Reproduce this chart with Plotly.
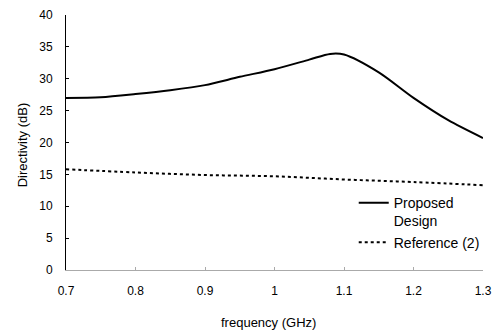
import plotly.graph_objects as go

freq_proposed = [0.70, 0.75, 0.80, 0.85, 0.90, 0.95, 1.00, 1.05, 1.08, 1.10, 1.15, 1.20, 1.25, 1.30]
dir_proposed = [27.0, 27.1, 27.6, 28.2, 29.0, 30.3, 31.5, 33.0, 33.9, 33.8, 31.0, 27.0, 23.5, 20.7]

freq_reference = [0.70, 0.80, 0.90, 1.00, 1.10, 1.20, 1.30]
dir_reference = [15.8, 15.3, 14.9, 14.7, 14.2, 13.8, 13.3]

x_ticks = [0.7, 0.8, 0.9, 1.0, 1.1, 1.2, 1.3]
x_ticktext = ["0.7", "0.8", "0.9", "1", "1.1", "1.2", "1.3"]
y_ticks = [0, 5, 10, 15, 20, 25, 30, 35, 40]

FONT = "Liberation Sans Narrow, Liberation Sans, Arial, sans-serif"

fig = go.Figure()
fig.add_trace(go.Scatter(
    x=freq_proposed, y=dir_proposed, mode="lines", name="Proposed<br>Design",
    line=dict(color="black", width=2, shape="spline", smoothing=0.8)))
fig.add_trace(go.Scatter(
    x=freq_reference, y=dir_reference, mode="lines", name="Reference (2)",
    line=dict(color="black", width=2, dash="dot", shape="spline")))

fig.update_layout(
    width=494, height=330,
    margin=dict(l=66, r=9, t=15, b=60),
    paper_bgcolor="white", plot_bgcolor="white",
    font=dict(family=FONT, size=12, color="black"),
    showlegend=True,
    legend=dict(x=0.69, y=0.325, xanchor="left", yanchor="top",
                bgcolor="rgba(0,0,0,0)", font=dict(size=14, family=FONT),
                valign="top", itemwidth=30, tracegroupgap=16),
    xaxis=dict(range=[0.7, 1.3], tickvals=x_ticks, ticktext=x_ticktext,
               showgrid=False, zeroline=False, showline=True,
               linecolor="#aaaaaa", linewidth=1,
               ticks="inside", ticklen=3, tickcolor="#aaaaaa",
               ticklabelstandoff=10, automargin=False,
               tickfont=dict(size=12)),
    yaxis=dict(range=[0, 40], tickvals=y_ticks,
               showgrid=False, zeroline=False, showline=True,
               linecolor="black", linewidth=1,
               ticks="inside", ticklen=3, tickcolor="black",
               ticklabelstandoff=10, automargin=False,
               tickfont=dict(size=12)),
    annotations=[
        dict(text="frequency (GHz)", xref="paper", yref="paper",
             x=0.486, y=-0.205, xanchor="center", yanchor="middle",
             showarrow=False, font=dict(size=13)),
        dict(text="Directivity (dB)", xref="paper", yref="paper",
             x=-0.105, y=0.49, xanchor="center", yanchor="middle",
             textangle=-90, showarrow=False, font=dict(size=13)),
    ],
)

fig.write_html("out.html")
